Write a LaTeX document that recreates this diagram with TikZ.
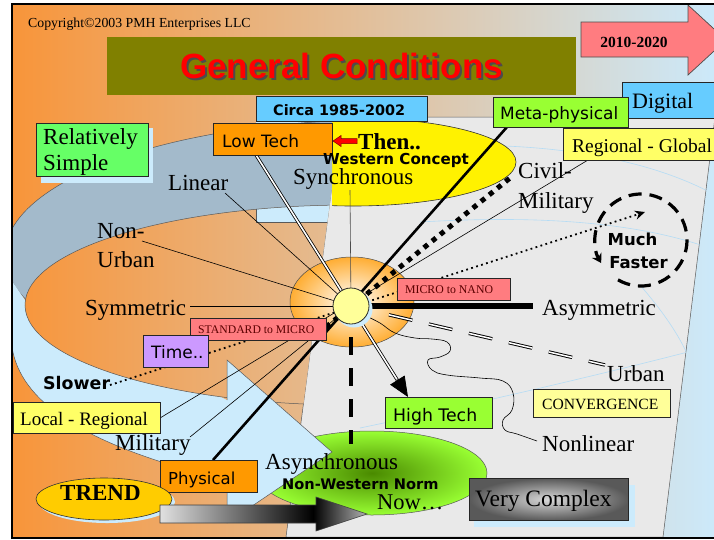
\documentclass[tikz,border=0pt]{standalone}
\usepackage{fontspec}
\setmainfont{Liberation Serif}
\newfontfamily\dvs{DejaVu Sans}
\newfontfamily\lsans{Liberation Sans}
\usetikzlibrary{arrows.meta,calc,shapes.geometric}
\newcommand\fsz[1]{\fontsize{#1}{#1}\selectfont}
\definecolor{bgL}{HTML}{F8953A}
\definecolor{bgM}{HTML}{EAC6BA}
\definecolor{bgR}{HTML}{CCE9FA}
\definecolor{ringC}{HTML}{A3BACB}
\definecolor{polyC}{HTML}{E9E9E9}
\definecolor{ltbl}{HTML}{CCEBFC}
\definecolor{skyC}{HTML}{66CCFF}
\definecolor{limeC}{HTML}{99FF33}
\definecolor{mintC}{HTML}{66FF66}
\definecolor{orC}{HTML}{FF9900}
\definecolor{yelC}{HTML}{FFFF66}
\definecolor{creamC}{HTML}{FFFF99}
\definecolor{pinkC}{HTML}{FF7C80}
\definecolor{lavC}{HTML}{CC99FF}
\definecolor{oliveC}{HTML}{808000}
\definecolor{goldC}{HTML}{FFCC00}
\definecolor{maroonC}{HTML}{5A0000}
\definecolor{faintC}{HTML}{B5DCF5}
\definecolor{dkgreenC}{HTML}{4A8A00}
\pgfdeclarehorizontalshading{grayarrow}{100bp}{color(0bp)=(black!12); color(25bp)=(black!12); color(62bp)=(black); color(75bp)=(black!30); color(100bp)=(black!30)}
\begin{document}
\begin{tikzpicture}[x=1pt,y=-1pt,
  box/.style={draw=black!85, line width=0.8pt, inner sep=0pt, anchor=north west},
  lbl/.style={inner sep=0pt, anchor=base west},
  conn/.style={draw=black, line width=0.6pt},
  edgeC/.style={draw=black!65, line width=0.5pt},
  faint/.style={draw=faintC, line width=0.6pt}]
\useasboundingbox (0,0) rectangle (714,539);
\fill[white] (0,0) rectangle (714,539);
\shade[left color=bgL, middle color=bgM, right color=bgR] (12,4) rectangle (714,537);

% back plane
\filldraw[fill=polyC, edgeC] (341,117) -- (715,117) -- (663,537) -- (286,537) -- cycle;
\begin{scope}
\clip (341,117) -- (715,117) -- (663,537) -- (286,537) -- cycle;
\draw[faint] (420,222) .. controls (540,215) and (640,222) .. (715,250);
\draw[faint] (505,146) .. controls (600,150) and (670,170) .. (715,195);
\draw[faint] (360,428) .. controls (470,405) and (600,375) .. (715,345);
\draw[faint] (640,285) .. controls (670,320) and (690,350) .. (700,390);
\end{scope}

% yellow ellipse
\begin{scope}
\clip (332,0) rectangle (714,539);
\filldraw[fill=yellow, draw=black!80, line width=0.6pt] (353,162) ellipse [x radius=163, y radius=44];
\end{scope}

% ring group
\begin{scope}
\clip (12,4) -- (332,4) -- (332,186) -- (286,537) -- (12,537) -- cycle;
\fill[ltbl] (256,96) rectangle (332,222);
\filldraw[fill=ringC, edgeC] (380,255) ellipse [x radius=375, y radius=135];
\fill[ltbl] (12,281) -- (12,347) .. controls (20,400) and (80,445) .. (227,480) -- (227,400) -- (25,300) -- cycle;
\draw[edgeC] (12,347) .. controls (20,400) and (80,445) .. (227,480);
\begin{scope}
\clip (350,305) ellipse [x radius=325, y radius=100];
\shade[left color=bgL, middle color=bgM, right color=bgR] (12,4) rectangle (714,537);
\filldraw[fill=ltbl, edgeC] (256,150) rectangle (332,222);
\end{scope}
\draw[edgeC] (350,305) ellipse [x radius=325, y radius=100];
\end{scope}

% green ellipse
\shade[inner color=dkgreenC, outer color=limeC] (372,473) ellipse [x radius=115, y radius=42];
\draw[edgeC] (372,473) ellipse [x radius=115, y radius=42];

% light blue arrow head
\fill[ltbl] (227,360) -- (332,452) -- (227,523) -- cycle;
\draw[edgeC] (227,400) -- (227,360) -- (332,452) -- (227,523) -- (227,480);

% centre disc
\shade[inner color=white, outer color=orC!80!white] (352,302) ellipse [x radius=62, y radius=45];
\draw[black!70, line width=0.5pt] (352,302) ellipse [x radius=62, y radius=45];

% coordinates
\coordinate (hubC) at (351,306);
\coordinate (ltA) at (256,155);
\coordinate (htA) at (408,397);
\coordinate (mpA) at (507,127);
\coordinate (phA) at (213,460);
\coordinate (rgA) at (588,160);
\coordinate (lrA) at (160,418);
\coordinate (milA) at (190,437);
\coordinate (asA) at (533,306);
\coordinate (urA) at (605,365);
\coordinate (liA) at (225,193);
\coordinate (nuA) at (142,241);
\coordinate (syA) at (190,306);
\coordinate (snA) at (350,190);
\coordinate (slA) at (110,385);
\coordinate (mfA) at (645,212);
\coordinate (sqA) at (326,327);
\coordinate (sqB) at (510,178);
\coordinate (vdA) at (351,337);
\coordinate (vdB) at (351,444);

% connectors
\draw[conn] (liA) -- (hubC);
\draw[conn] (nuA) -- (hubC);
\draw[conn] (syA) -- (hubC);
\draw[conn, draw=black!70] (snA) -- (hubC);
\draw[conn] (rgA) -- (lrA);
\draw[conn] (milA) -- (hubC);
\draw[line width=2.6pt] (mpA) -- (phA);
\draw[line width=6pt] (hubC) -- (asA);
\draw[double, double distance=1.6pt, line width=0.8pt] (ltA) -- ($(htA)!19pt!(ltA)$);
\draw[line width=0.8pt, -{Triangle[length=20pt,width=17pt]}] ($(htA)!21pt!(ltA)$) -- (htA);
\draw[double, double distance=1.5pt, line width=0.95pt, dash pattern=on 24pt off 17pt] ($(hubC)!39pt!(urA)$) -- (urA);
\draw[line width=1.8pt, dash pattern=on 1.8pt off 3.4pt, -{Stealth[length=10pt,width=9pt]}] (slA) -- (mfA);
\draw[line width=5pt, dash pattern=on 5pt off 5.5pt] (sqA) -- (sqB);
\draw[line width=4pt, dash pattern=on 18pt off 13pt] (vdA) -- (vdB);
\draw[conn] plot[smooth, tension=0.7] coordinates {(366,316) (380,323) (395,333) (415,338) (432,339) (447,342) (450,351) (440,357) (428,360) (432,370) (447,375) (480,378) (503,381) (513,393) (512,410) (503,420) (505,430) (517,434) (537,441)};
\draw[line width=3.2pt, dash pattern=on 13pt off 8pt, -{Stealth[length=9pt,width=11pt]}] (641,240) ++(480:46) arc (480:150:46);

% hub
\fill[ltbl] (354,309) circle [radius=18.5];
\node[circle, draw=black!85, line width=0.8pt, fill=creamC, minimum size=36pt, inner sep=0pt] (hub) at (hubC) {};

% title and top
\node[box, fill=oliveC, draw=none, minimum width=469pt, minimum height=58pt] (titlebox) at (107,37) {};
\node[anchor=base, inner sep=0pt, font=\lsans\bfseries\fsz{35}, text=black!70] (titleshadow) at (343.5,80.5) {General Conditions};
\node[anchor=base, inner sep=0pt, font=\lsans\bfseries\fsz{35}, text=red] (title) at (341.5,78) {General Conditions};
\node[lbl, font=\fsz{13.8}] (copyright) at (28,27) {Copyright©2003 PMH Enterprises LLC};
\filldraw[fill=pinkC, draw=black!70, line width=0.7pt] (581,22) -- (688,22) -- (688,5) -- (726,40) -- (688,75) -- (688,57) -- (581,57) -- cycle;
\node[anchor=base, inner sep=0pt, font=\bfseries\fsz{15.5}] (years) at (634,47) {2010-2020};

\node[box, fill=skyC, minimum width=171pt, minimum height=25pt] (circa) at (256,96) {};
\node[lbl, font=\dvs\bfseries\fsz{14.4}] (circat) at (273,115) {Circa 1985-2002};
\node[box, fill=skyC, minimum width=98pt, minimum height=36pt] (digital) at (622,82) {};
\node[lbl, font=\fsz{22}] (digitalt) at (632,108) {Digital};
\node[box, fill=limeC, minimum width=135pt, minimum height=30pt] (meta) at (493,97) {};
\node[lbl, font=\dvs\fsz{17}] (metat) at (500,119) {Meta-physical};
\node[box, fill=yelC, minimum width=157pt, minimum height=32pt] (regglob) at (563,128) {};
\node[lbl, font=\fsz{19.5}] (regglobt) at (572,152) {Regional - Global};

\node[box, fill=ltbl, draw=none, minimum width=112pt, minimum height=55pt] (relshadow) at (41,128) {};
\node[box, fill=mintC, minimum width=112pt, minimum height=53pt] (relsimple) at (36,123) {};
\node[lbl, font=\fsz{23}] (relt1) at (43,144) {Relatively};
\node[lbl, font=\fsz{23}] (relt2) at (43,170) {Simple};

\node[box, fill=orC, minimum width=119pt, minimum height=32pt] (lowtech) at (213,123) {};
\node[lbl, font=\dvs\fsz{17}] (lowtecht) at (222,147) {Low Tech};
\filldraw[fill=red, draw=red!50!black, line width=0.5pt] (333,141) -- (341,135.5) -- (341,138.5) -- (357,138.5) -- (357,143.5) -- (341,143.5) -- (341,146.5) -- cycle;
\node[lbl, font=\bfseries\fsz{23}] (then) at (358,149) {Then..};
\node[lbl, font=\dvs\bfseries\fsz{15.1}] (western) at (323,164.5) {Western Concept};
\node[lbl, font=\fsz{23}] (sync) at (293,184) {Synchronous};
\node[lbl, font=\fsz{23}] (linear) at (168,190) {Linear};
\node[lbl, font=\fsz{23}] (civil1) at (518,178) {Civil-};
\node[lbl, font=\fsz{23}] (civil2) at (518,208) {Military};
\node[lbl, font=\fsz{23}] (nonurb1) at (97,238) {Non-};
\node[lbl, font=\fsz{23}] (nonurb2) at (97,267) {Urban};
\node[anchor=base, inner sep=0pt, font=\dvs\bfseries\fsz{16.5}] (much) at (632.5,245) {Much};
\node[anchor=base, inner sep=0pt, font=\dvs\bfseries\fsz{16.5}] (faster) at (638.5,268) {Faster};

\node[box, fill=pinkC, minimum width=113pt, minimum height=22pt] (micro) at (397,278) {};
\node[lbl, font=\fsz{11.8}, text=maroonC] (microt) at (405,293) {MICRO to NANO};
\node[lbl, font=\fsz{23}] (symm) at (85,315) {Symmetric};
\node[lbl, font=\fsz{23}] (asymm) at (542,315) {Asymmetric};
\node[box, fill=pinkC, minimum width=136pt, minimum height=22pt] (standard) at (190,318) {};
\node[lbl, font=\fsz{11.7}, text=maroonC] (standardt) at (198,333) {STANDARD to MICRO};
\node[box, fill=lavC, minimum width=65pt, minimum height=32pt] (timebox) at (143,335) {};
\node[lbl, font=\dvs\fsz{17}] (timet) at (151,358) {Time..};
\node[lbl, font=\fsz{23}] (urban) at (607,381) {Urban};
\node[lbl, font=\dvs\bfseries\fsz{17.4}] (slower) at (43,389) {Slower};
\node[box, fill=creamC, minimum width=137pt, minimum height=28pt] (conv) at (533,389) {};
\node[lbl, font=\fsz{15.6}] (convt) at (542,409) {CONVERGENCE};
\node[box, fill=limeC, minimum width=107pt, minimum height=31pt] (hightech) at (385,397) {};
\node[lbl, font=\dvs\fsz{17.3}] (hightecht) at (393,421) {High Tech};
\node[box, fill=yelC, minimum width=147pt, minimum height=31pt] (locreg) at (13,402) {};
\node[lbl, font=\fsz{19}] (locregt) at (20,425) {Local - Regional};
\node[lbl, font=\fsz{23}] (nonlinear) at (542,451) {Nonlinear};
\node[lbl, font=\fsz{23}] (military) at (115,450) {Military};
\node[lbl, font=\fsz{23}] (async) at (265,469) {Asynchronous};
\node[box, fill=orC, minimum width=97pt, minimum height=32pt] (physical) at (160,460) {};
\node[lbl, font=\dvs\fsz{16.5}] (physicalt) at (168,484) {Physical};
\node[lbl, font=\dvs\bfseries\fsz{14.6}] (nonwest) at (282,489) {Non-Western Norm};

\fill[ltbl] (107,502) ellipse [x radius=68, y radius=21];
\node[ellipse, draw=black!80, line width=0.6pt, fill=goldC, minimum width=136pt, minimum height=42pt, inner sep=0pt] (trend) at (104,499) {};
\node[lbl, font=\bfseries\fsz{23}] (trendt) at (60,500) {TREND};

\shade[shading=grayarrow] (160,505) -- (316,505) -- (316,497) -- (367,514) -- (316,531) -- (316,523) -- (160,523) -- cycle;
\draw[black!75, line width=0.6pt] (160,505) -- (316,505) -- (316,497) -- (367,514) -- (316,531) -- (316,523) -- (160,523) -- cycle;

\fill[ltbl] (474,485) rectangle (635,527);
\node[box, inner color=black!15, outer color=black!65, minimum width=159pt, minimum height=42pt] (vcomplex) at (469,478) {};
\node[lbl, font=\fsz{23.5}] (vcomplext) at (475,506) {Very Complex};
\node[lbl, font=\fsz{22.5}] (now) at (377,509) {Now…};

% frame
\draw[line width=2pt] (12,539) -- (12,4) -- (716,4);
\draw[line width=2pt] (12,537.5) -- (716,537.5);
\end{tikzpicture}
\end{document}
